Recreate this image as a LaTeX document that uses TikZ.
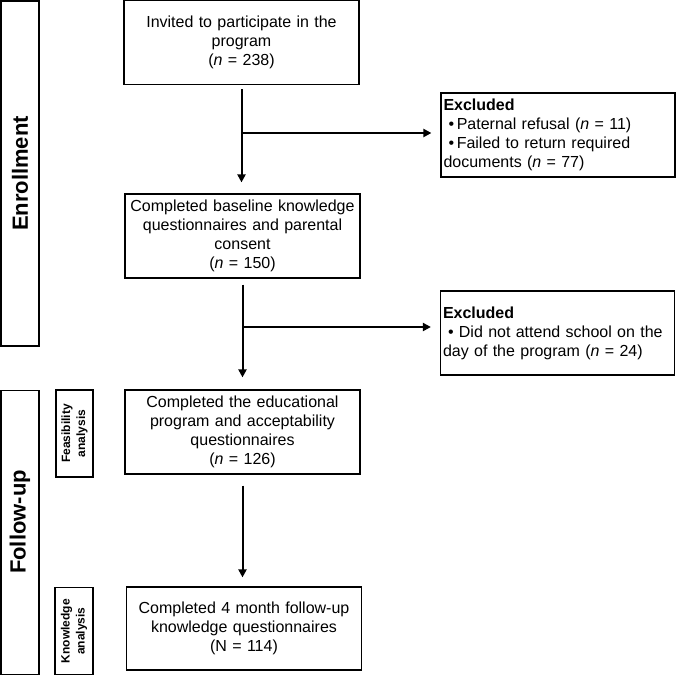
\documentclass[tikz,border=0pt]{standalone}
\usepackage{fontspec}
\setmainfont{Liberation Sans}
\usetikzlibrary{arrows.meta}
\begin{document}
\begin{tikzpicture}[x=1pt,y=-1pt,
  box/.style={draw, line width=1.2pt, inner sep=0pt, align=center,
    text width=232pt, minimum width=235pt, minimum height=84pt,
    font=\fontsize{16}{19}\selectfont},
  exbox/.style={draw, line width=1.2pt, inner xsep=2.5pt, inner ysep=0pt, align=left,
    text width=229pt, minimum height=84pt,
    font=\fontsize{16}{19}\selectfont},
  phase/.style={draw, line width=1.2pt, inner sep=0pt, rotate=90,
    font=\fontsize{22}{26}\selectfont\bfseries},
  sub/.style={draw, line width=1.2pt, inner sep=0pt, rotate=90, align=center,
    font=\fontsize{12}{15}\selectfont\bfseries},
  arr/.style={line width=2pt, -{Triangle[length=8pt,width=8pt]}},
  lin/.style={line width=2pt}
]
\useasboundingbox (0,0) rectangle (676,674);

% phase boxes
\node[phase, minimum width=345pt, minimum height=38pt] (enr) at (20,173.5) {Enrollment};
\node[phase, minimum width=284pt, minimum height=38pt] (fu) at (20,532.5) {};
\node[rotate=90, inner sep=0pt, font=\fontsize{22}{26}\selectfont\bfseries] (fut) at (20,522) {Follow-up};
\node[sub, minimum width=87pt, minimum height=37pt] (fea) at (74.5,433.5) {Feasibility\\analysis};
\node[sub, minimum width=87pt, minimum height=38pt] (kno) at (74,631) {Knowledge\\analysis};

% main boxes
\node[box] (b1) at (241.5,42.5) {Invited to participate in the\\program\\(\textit{n} = 238)};
\node[box] (b2) at (242.5,236) {Completed baseline knowledge\\questionnaires and parental\\consent\\(\textit{n} = 150)};
\node[box] (b3) at (242.5,432) {Completed the educational\\program and acceptability\\questionnaires\\(\textit{n} = 126)};
\node[box, minimum height=83pt] (b4) at (244,628.5) {Completed 4 month follow-up\\knowledge questionnaires\\(N = 114)};

% excluded boxes
\node[exbox] (ex1) at (558,135) {\textbf{Excluded}\\\hspace*{5pt}\textbullet\,Paternal refusal (\textit{n} = 11)\\\hspace*{5pt}\textbullet\,Failed to return required\\documents (\textit{n} = 77)};
\node[exbox] (ex2) at (557.5,333) {\textbf{Excluded}\\\hspace*{5pt}\textbullet\ Did not attend school on the\\day of the program (\textit{n} = 24)};

% connectors
\draw[arr, shorten <=4pt, shorten >=11pt] (b1.south) -- (b1.south |- b2.north);
\coordinate (j1) at (b1.south |- 0,133);
\draw[arr, shorten >=9pt] (j1) -- (j1 -| ex1.west);

\draw[arr, shorten <=6pt, shorten >=12pt] (b2.south) -- (b2.south |- b3.north);
\coordinate (j2) at (b2.south |- 0,327);
\draw[arr, shorten >=9pt] (j2) -- (j2 -| ex2.west);

\draw[arr, shorten <=11pt, shorten >=9pt] (b3.south) -- (b3.south |- b4.north);
\end{tikzpicture}
\end{document}
